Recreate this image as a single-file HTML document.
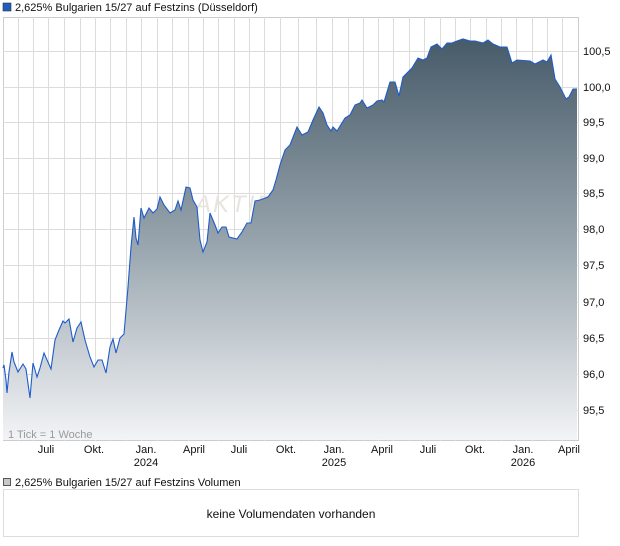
<!DOCTYPE html>
<html><head><meta charset="utf-8"><style>
body{margin:0;background:#fff;width:620px;height:546px;overflow:hidden;font-family:"Liberation Sans",sans-serif;}
svg{position:absolute;left:0;top:0}
</style></head><body>
<svg width="620" height="546" xmlns="http://www.w3.org/2000/svg" font-family="Liberation Sans, sans-serif">
<defs>
<linearGradient id="fill" gradientUnits="userSpaceOnUse" x1="0" y1="38" x2="0" y2="441">
<stop offset="0" stop-color="#465a68"/>
<stop offset="0.5" stop-color="#96a3ac"/>
<stop offset="1" stop-color="#f3f4f6"/>
</linearGradient>
</defs>
<rect x="3" y="3" width="8" height="8" fill="#1f5cbf" stroke="#333" stroke-width="0.6"/>
<text x="15" y="11" font-size="11" fill="#111">2,625% Bulgarien 15/27 auf Festzins (Düsseldorf)</text>
<rect x="3.5" y="17.5" width="575" height="423" fill="#fff" stroke="#ccc"/>
<g stroke="#dcdcdc" stroke-width="1">
<line x1="3" y1="51.5" x2="579" y2="51.5"/><line x1="3" y1="87.5" x2="579" y2="87.5"/>
<line x1="3" y1="122.5" x2="579" y2="122.5"/><line x1="3" y1="158.5" x2="579" y2="158.5"/>
<line x1="3" y1="193.5" x2="579" y2="193.5"/><line x1="3" y1="229.5" x2="579" y2="229.5"/>
<line x1="3" y1="265.5" x2="579" y2="265.5"/><line x1="3" y1="302.5" x2="579" y2="302.5"/>
<line x1="3" y1="338.5" x2="579" y2="338.5"/><line x1="3" y1="374.5" x2="579" y2="374.5"/>
<line x1="3" y1="410.5" x2="579" y2="410.5"/>
<line x1="18.5" y1="17" x2="18.5" y2="441"/><line x1="33.5" y1="17" x2="33.5" y2="441"/>
<line x1="48.5" y1="17" x2="48.5" y2="441"/><line x1="64.5" y1="17" x2="64.5" y2="441"/>
<line x1="80.5" y1="17" x2="80.5" y2="441"/><line x1="95.5" y1="17" x2="95.5" y2="441"/>
<line x1="110.5" y1="17" x2="110.5" y2="441"/><line x1="126.5" y1="17" x2="126.5" y2="441"/>
<line x1="141.5" y1="17" x2="141.5" y2="441"/><line x1="157.5" y1="17" x2="157.5" y2="441"/>
<line x1="172.5" y1="17" x2="172.5" y2="441"/><line x1="188.5" y1="17" x2="188.5" y2="441"/>
<line x1="203.5" y1="17" x2="203.5" y2="441"/><line x1="218.5" y1="17" x2="218.5" y2="441"/>
<line x1="234.5" y1="17" x2="234.5" y2="441"/><line x1="249.5" y1="17" x2="249.5" y2="441"/>
<line x1="264.5" y1="17" x2="264.5" y2="441"/><line x1="280.5" y1="17" x2="280.5" y2="441"/>
<line x1="298.5" y1="17" x2="298.5" y2="441"/>
<line x1="316.5" y1="17" x2="316.5" y2="441"/><line x1="332.5" y1="17" x2="332.5" y2="441"/>
<line x1="348.5" y1="17" x2="348.5" y2="441"/><line x1="363.5" y1="17" x2="363.5" y2="441"/>
<line x1="378.5" y1="17" x2="378.5" y2="441"/><line x1="393.5" y1="17" x2="393.5" y2="441"/>
<line x1="409.5" y1="17" x2="409.5" y2="441"/><line x1="424.5" y1="17" x2="424.5" y2="441"/>
<line x1="440.5" y1="17" x2="440.5" y2="441"/><line x1="455.5" y1="17" x2="455.5" y2="441"/>
<line x1="470.5" y1="17" x2="470.5" y2="441"/><line x1="486.5" y1="17" x2="486.5" y2="441"/>
<line x1="501.5" y1="17" x2="501.5" y2="441"/><line x1="516.5" y1="17" x2="516.5" y2="441"/>
<line x1="532.5" y1="17" x2="532.5" y2="441"/><line x1="547.5" y1="17" x2="547.5" y2="441"/>
<line x1="562.5" y1="17" x2="562.5" y2="441"/>
</g>
<text x="195" y="212" font-size="24" fill="#e8e4df" font-style="italic" letter-spacing="2">AKTIE</text>
<path id="p" d="M3,368 L4,365 L6,380 L7,393 L9,372 L12,352 L14,362 L18,372 L23,364 L26,369 L30,398 L33,363 L37,377 L40,368 L44,353 L51,369 L55,340 L59,330 L63,321 L65,323 L69,319 L73,342 L77,328 L81,322 L85,340 L90,357 L94,367 L98,360 L102,360 L106,373 L110,347 L113,339 L116,353 L120,338 L124,334 L128,287 L131,247 L134,217 L136,238 L138,245 L141,208 L144,218 L149,208 L153,213 L157,209 L160,197 L164,205 L170,213 L175,210 L178,201 L181,210 L186,187 L190,188 L193,200 L197,207 L200,240 L203,252 L207,242 L210,213 L215,225 L218,233 L222,227 L226,227 L229,237 L237,239 L242,232 L247,223 L251,223 L255,201 L260,200 L268,197 L273,190 L276,180 L280,165 L285,150 L290,145 L297,127 L302,135 L308,132 L313,120 L319,107 L323,113 L327,125 L331,131 L333,127 L337,131 L345,118 L350,115 L355,105 L360,103 L362,100 L367,108 L373,105 L377,101 L382,100 L384,102 L390,82 L395,82 L399,96 L403,77 L408,72 L412,68 L418,58 L423,60 L427,58 L431,47 L437,44 L442,49 L447,43 L452,43 L457,41 L463,39 L470,41 L475,41 L483,43 L488,40 L493,44 L500,47 L507,47 L512,63 L517,60 L530,61 L535,64 L543,60 L547,62 L551,55 L555,79 L560,87 L566,99 L569,97 L573,89 L577,89" fill="none"/>
<path d="M3,368 L4,365 L6,380 L7,393 L9,372 L12,352 L14,362 L18,372 L23,364 L26,369 L30,398 L33,363 L37,377 L40,368 L44,353 L51,369 L55,340 L59,330 L63,321 L65,323 L69,319 L73,342 L77,328 L81,322 L85,340 L90,357 L94,367 L98,360 L102,360 L106,373 L110,347 L113,339 L116,353 L120,338 L124,334 L128,287 L131,247 L134,217 L136,238 L138,245 L141,208 L144,218 L149,208 L153,213 L157,209 L160,197 L164,205 L170,213 L175,210 L178,201 L181,210 L186,187 L190,188 L193,200 L197,207 L200,240 L203,252 L207,242 L210,213 L215,225 L218,233 L222,227 L226,227 L229,237 L237,239 L242,232 L247,223 L251,223 L255,201 L260,200 L268,197 L273,190 L276,180 L280,165 L285,150 L290,145 L297,127 L302,135 L308,132 L313,120 L319,107 L323,113 L327,125 L331,131 L333,127 L337,131 L345,118 L350,115 L355,105 L360,103 L362,100 L367,108 L373,105 L377,101 L382,100 L384,102 L390,82 L395,82 L399,96 L403,77 L408,72 L412,68 L418,58 L423,60 L427,58 L431,47 L437,44 L442,49 L447,43 L452,43 L457,41 L463,39 L470,41 L475,41 L483,43 L488,40 L493,44 L500,47 L507,47 L512,63 L517,60 L530,61 L535,64 L543,60 L547,62 L551,55 L555,79 L560,87 L566,99 L569,97 L573,89 L577,89 L577,440 L3,440 Z" fill="url(#fill)"/>
<use href="#p" stroke="#1f5cc8" stroke-width="1.1"/>
<text x="8" y="438" font-size="11" fill="#9a9a9a">1 Tick = 1 Woche</text>
<g font-size="11" fill="#111">
<text x="583" y="55">100,5</text><text x="583" y="91">100,0</text>
<text x="583" y="126">99,5</text><text x="583" y="162">99,0</text>
<text x="583" y="197">98,5</text><text x="583" y="233">98,0</text>
<text x="583" y="269">97,5</text><text x="583" y="306">97,0</text>
<text x="583" y="342">96,5</text><text x="583" y="378">96,0</text>
<text x="583" y="414">95,5</text>
</g>
<g font-size="11" fill="#111" text-anchor="middle">
<text x="46" y="453">Juli</text><text x="94" y="453">Okt.</text><text x="146" y="453">Jan.</text><text x="146" y="466">2024</text>
<text x="194" y="453">April</text><text x="239" y="453">Juli</text><text x="286" y="453">Okt.</text>
<text x="334" y="453">Jan.</text><text x="334" y="466">2025</text><text x="382" y="453">April</text>
<text x="428" y="453">Juli</text><text x="475" y="453">Okt.</text><text x="523" y="453">Jan.</text><text x="523" y="466">2026</text>
<text x="569" y="453">April</text>
</g>
<rect x="3.5" y="478.5" width="7" height="7" fill="#c8c8c8" stroke="#333" stroke-width="0.8"/>
<text x="15" y="486" font-size="11" fill="#111">2,625% Bulgarien 15/27 auf Festzins Volumen</text>
<rect x="3.5" y="489.5" width="575" height="47" fill="#fff" stroke="#ddd"/>
<text x="291" y="518" font-size="12" fill="#111" text-anchor="middle">keine Volumendaten vorhanden</text>
</svg>
</body></html>
